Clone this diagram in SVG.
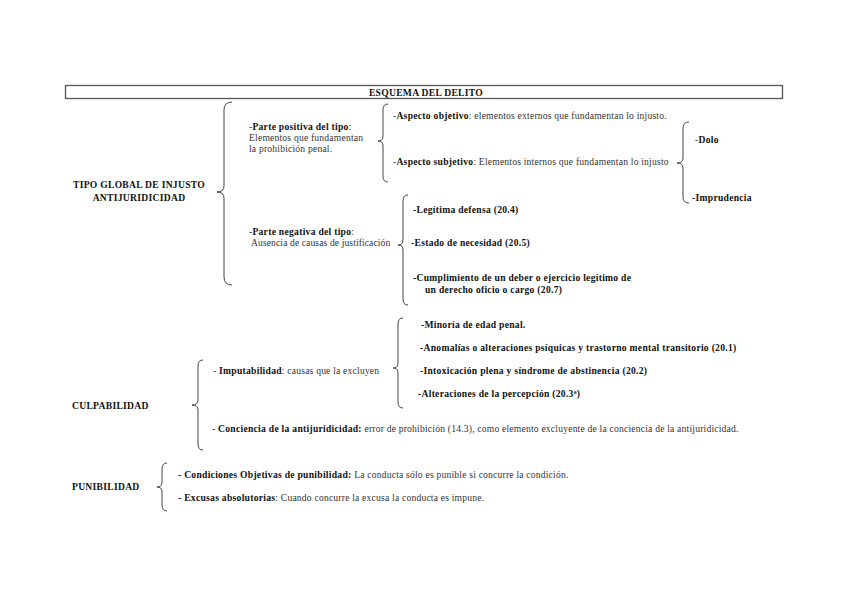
<svg xmlns="http://www.w3.org/2000/svg" width="848" height="599" viewBox="0 0 848 599">
<style>
text{font-family:"Liberation Serif","Times New Roman",serif;font-size:9.6px;letter-spacing:0.2px;fill:#333}
.b{font-weight:bold;fill:#111;letter-spacing:0.28px}
.h{font-weight:bold;fill:#111;letter-spacing:0.28px}
.br{fill:none;stroke:#444;stroke-width:1}
</style>
<rect width="848" height="599" fill="#fff"/>
<g id="title">
<rect x="65.5" y="85.5" width="717" height="13" fill="none" stroke="#555" stroke-width="1.3"/>
<text class="h" x="426" y="95.5" text-anchor="middle">ESQUEMA DEL DELITO</text>
</g>
<g id="connectors">
<path class="br" d="M232,102 Q224,102 224,110 L224,186 Q224,192 217,192 Q224,192 224,198 L224,277 Q224,285 232,285"/>
<path class="br" d="M388,104 Q383,104 383,110 L383,136 Q383,141 378,141 Q383,141 383,146 L383,176 Q383,182 388,182"/>
<path class="br" d="M408,195 Q403,195 403,201 L403,240 Q403,245 398,245 Q403,245 403,250 L403,299 Q403,305 408,305"/>
<path class="br" d="M689,122 Q683,122 683,128 L683,158 Q683,163 677,163 Q683,163 683,168 L683,197 Q683,203 689,203"/>
<path class="br" d="M203,360 Q198,360 198,366 L198,400 Q198,405 192,405 Q198,405 198,410 L198,444 Q198,450 203,450"/>
<path class="br" d="M403,318 Q398,318 398,324 L398,363 Q398,368 393,368 Q398,368 398,373 L398,402 Q398,408 403,408"/>
<path class="br" d="M167,463 Q162,463 162,469 L162,482 Q162,487 157,487 Q162,487 162,492 L162,505 Q162,511 167,511"/>
</g>
<g id="tipo-global">
<text class="h" x="139" y="188" text-anchor="middle">TIPO GLOBAL DE INJUSTO</text>
<text class="h" x="139" y="201" text-anchor="middle">ANTIJURIDICIDAD</text>
</g>
<g id="parte-positiva">
<text x="249" y="130">-<tspan class="b">Parte positiva del tipo</tspan>:</text>
<text x="249" y="141">Elementos que fundamentan</text>
<text x="249" y="152">la prohibición penal.</text>
</g>
<g id="aspecto-objetivo">
<text x="393" y="119">-<tspan class="b">Aspecto objetivo</tspan>: elementos externos que fundamentan lo injusto.</text>
</g>
<g id="aspecto-subjetivo">
<text x="393" y="165">-<tspan class="b">Aspecto subjetivo</tspan>: Elementos internos que fundamentan lo injusto</text>
</g>
<g id="dolo"><text class="b" x="695" y="143"><tspan style="font-weight:normal;fill:#333">-</tspan>Dolo</text></g>
<g id="imprudencia"><text class="b" x="692" y="201">-Imprudencia</text></g>
<g id="parte-negativa">
<text x="249" y="235">-<tspan class="b">Parte negativa del tipo</tspan>:</text>
<text x="251" y="246" style="letter-spacing:0.1px">Ausencia de causas de justificación</text>
</g>
<g id="legitima-defensa"><text class="b" x="413" y="213">-Legítima defensa (20.4)</text></g>
<g id="estado-necesidad"><text class="b" x="411" y="246">-Estado de necesidad (20.5)</text></g>
<g id="cumplimiento">
<text class="b" x="413" y="281">-Cumplimiento de un deber o ejercicio legítimo de</text>
<text class="b" x="425" y="293">un derecho oficio o cargo (20.7)</text>
</g>
<g id="culpabilidad"><text class="h" x="72" y="409">CULPABILIDAD</text></g>
<g id="imputabilidad">
<text x="213" y="374">- <tspan class="b">Imputabilidad</tspan>: causas que la excluyen</text>
</g>
<g id="minoria"><text class="b" x="421" y="328">-Minoría de edad penal.</text></g>
<g id="anomalias"><text class="b" x="420" y="351">-Anomalías o alteraciones psíquicas y trastorno mental transitorio (20.1)</text></g>
<g id="intoxicacion"><text class="b" x="420" y="374">-Intoxicación plena y síndrome de abstinencia (20.2)</text></g>
<g id="alteraciones"><text class="b" x="418" y="397">-Alteraciones de la percepción (20.3ª)</text></g>
<g id="conciencia">
<text x="212" y="432">- <tspan class="b">Conciencia de la antijuridicidad:</tspan>  error de prohibición (14.3), como elemento excluyente de la conciencia de la antijuridicidad.</text>
</g>
<g id="punibilidad"><text class="h" x="72" y="490">PUNIBILIDAD</text></g>
<g id="condiciones">
<text x="178" y="478"><tspan class="b">- Condiciones Objetivas de punibilidad:</tspan> La conducta sólo es punible si concurre la condición.</text>
</g>
<g id="excusas">
<text x="178" y="501"><tspan class="b">- Excusas absolutorias</tspan>: Cuando concurre la excusa la conducta es impune.</text>
</g>
</svg>
